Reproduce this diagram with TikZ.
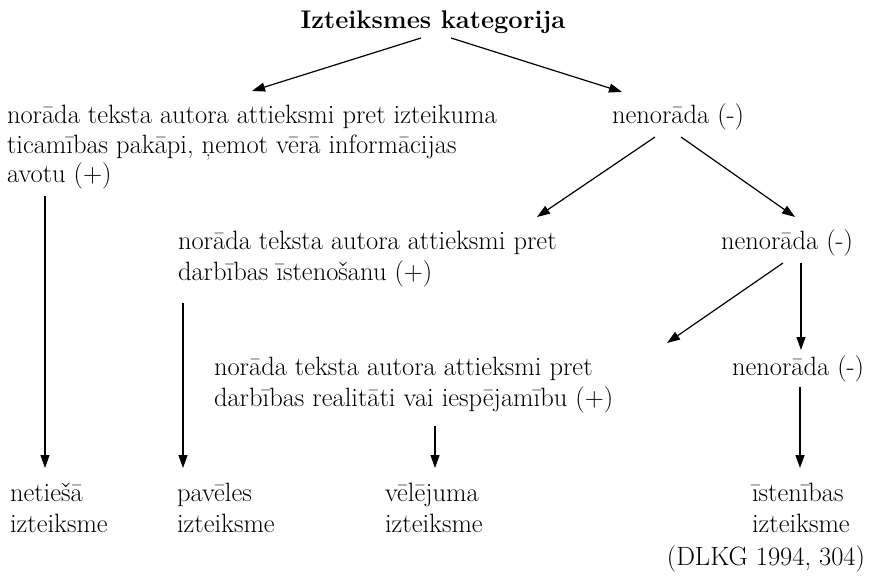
\documentclass[tikz,border=0pt]{standalone}
\usepackage{fontspec}
\usetikzlibrary{arrows.meta}
\begin{document}
\begin{tikzpicture}[x=1pt,y=-1pt,
  txt/.style={inner sep=0pt, outer sep=0pt, anchor=base west, align=left,
    font=\fontsize{26.5}{29.5}\selectfont},
  txtb/.style={txt, font=\fontsize{26.5}{31}\selectfont},
  arr/.style={line width=1.2pt, -{Triangle[length=13pt,width=9pt]}}]
\useasboundingbox[fill=white] (0,0) rectangle (869,577);
% nodes (multi-line nodes are placed by the baseline of their last line)
\node[txt, anchor=base, font=\fontsize{25.5}{29.5}\selectfont\bfseries] (title) at (433,29) {Izteiksmes kategorija};
\node[txt] (l1) at (7,183) {norāda teksta autora attieksmi pret izteikuma\\ticamības pakāpi, ņemot vērā informācijas\\avotu (+)};
\node[txt] (n1) at (612,124) {nenorāda (-)};
\node[txtb] (m2) at (178,280) {norāda teksta autora attieksmi pret\\darbības īstenošanu (+)};
\node[txt] (n2) at (721,249) {nenorāda (-)};
\node[txtb] (m3) at (214,406) {norāda teksta autora attieksmi pret\\darbības realitāti vai iespējamību (+)};
\node[txt] (n3) at (732,375) {nenorāda (-)};
\node[txtb] (b1) at (10,532) {netiešā\\izteiksme};
\node[txtb] (b2) at (177,532) {pavēles\\izteiksme};
\node[txtb] (b3) at (385,532) {vēlējuma\\izteiksme};
\node[txtb] (b4) at (752,532) {īstenības\\izteiksme};
\node[txt, anchor=base east] (src) at (865,565) {(DLKG 1994, 304)};
% connector end points
\coordinate (t1) at (421,38);  \coordinate (e1) at (252,91);
\coordinate (t2) at (451,38);  \coordinate (e2) at (622,92);
\coordinate (s3) at (655,137); \coordinate (e3) at (537,217);
\coordinate (s4) at (681,137); \coordinate (e4) at (795,217);
\coordinate (s5) at (783,263); \coordinate (e5) at (667,343);
\coordinate (s6) at (801,263); \coordinate (e6) at (801,350);
\coordinate (s7) at (45,196);  \coordinate (e7) at (45,468);
\coordinate (s8) at (183,303); \coordinate (e8) at (183,468);
\coordinate (s9) at (435,426); \coordinate (e9) at (435,468);
\coordinate (s10) at (800,387); \coordinate (e10) at (800,468);
% connectors
\draw[arr] (t1) -- (e1);
\draw[arr] (t2) -- (e2);
\draw[arr] (s3) -- (e3);
\draw[arr] (s4) -- (e4);
\draw[arr] (s5) -- (e5);
\draw[arr] (s6) -- (e6);
\draw[arr] (s7) -- (e7);
\draw[arr] (s8) -- (e8);
\draw[arr] (s9) -- (e9);
\draw[arr] (s10) -- (e10);
\end{tikzpicture}
\end{document}
